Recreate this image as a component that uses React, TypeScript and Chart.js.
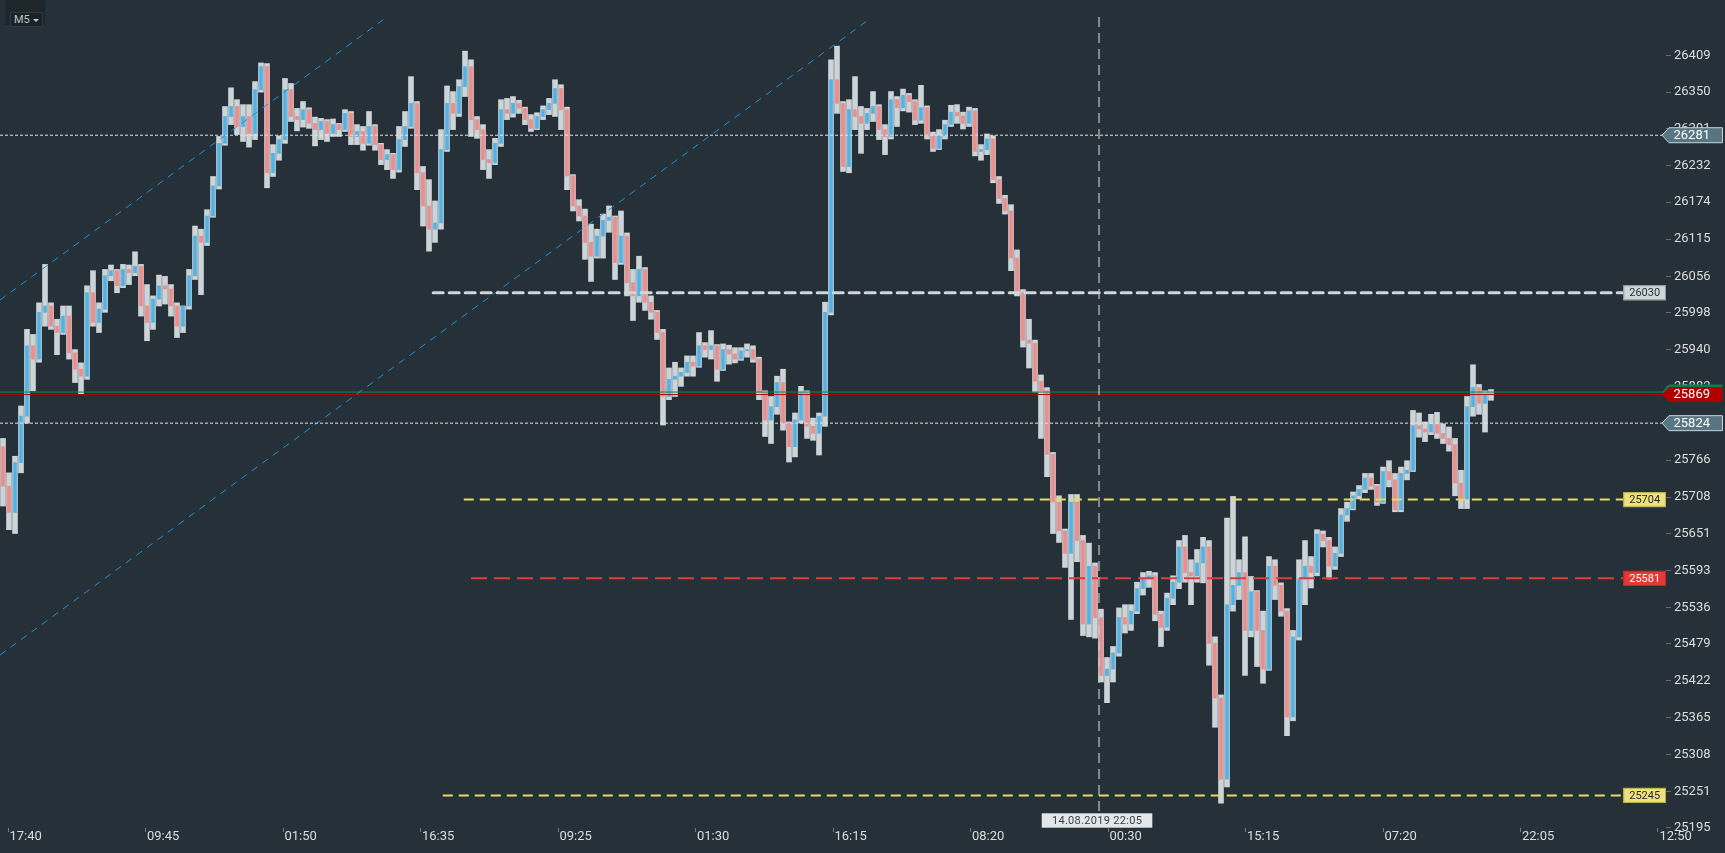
import React, { useEffect, useRef } from "react";
import { Chart, registerables } from "chart.js";

Chart.register(...registerables);

// ---------- data ----------
const timeframe = "M5";
const timeLabels = ["17:40", "09:45", "01:50", "16:35", "09:25", "01:30", "16:15", "08:20", "00:30", "15:15", "07:20", "22:05", "12:50"];
const priceTicks = [26409, 26350, 26291, 26232, 26174, 26115, 26056, 25998, 25940, 25882, 25824, 25766, 25708, 25651, 25593, 25536, 25479, 25422, 25365, 25308, 25251, 25195];

const opens = [
  25787, 25725, 25684, 25762, 25835, 25946, 25925, 25999, 26009, 25977,
  25967, 25993, 25935, 25909, 25898, 26030, 25983, 26004, 26057, 26065,
  26041, 26067, 26062, 26072, 26009, 25983, 26020, 26041, 26036, 26009,
  25977, 26009, 26057, 26120, 26110, 26152, 26200, 26268, 26311, 26327,
  26295, 26311, 26284, 26354, 26391, 26221, 26252, 26274, 26354, 26311,
  26306, 26322, 26300, 26290, 26303, 26284, 26298, 26290, 26316, 26279,
  26287, 26268, 26295, 26266, 26242, 26250, 26226, 26274, 26295, 26332,
  26221, 26168, 26131, 26141, 26258, 26332, 26316, 26359, 26391, 26306,
  26290, 26242, 26237, 26268, 26322, 26316, 26332, 26324, 26306, 26292,
  26311, 26322, 26332, 26356, 26322, 26216, 26168, 26152, 26110, 26088,
  26120, 26145, 26150, 26078, 26120, 26046, 26025, 26067, 26015, 25999,
  25967, 25866, 25893, 25898, 25904, 25920, 25914, 25946, 25940, 25946,
  25909, 25940, 25933, 25925, 25938, 25940, 25925, 25872, 25829, 25850,
  25888, 25824, 25787, 25829, 25872, 25819, 25808, 25835, 25999, 26370,
  26332, 26231, 26322, 26311, 26300, 26316, 26327, 26290, 26279, 26338,
  26325, 26345, 26335, 26305, 26325, 26280, 26260, 26280, 26298, 26318,
  26312, 26300, 26320, 26255, 26258, 26275, 26210, 26180, 26160, 26085,
  26030, 25955, 25950, 25890, 25875, 25775, 25700, 25655, 25620, 25700,
  25640, 25510, 25600, 25520, 25430, 25440, 25465, 25520, 25510, 25530,
  25565, 25580, 25585, 25525, 25505, 25550, 25575, 25630, 25590, 25585,
  25605, 25630, 25480, 25395, 25270, 25540, 25570, 25590, 25500, 25560,
  25500, 25440, 25600, 25570, 25530, 25366, 25490, 25580, 25600, 25590,
  25650, 25640, 25600, 25620, 25680, 25690, 25710, 25720, 25738, 25725,
  25700, 25748, 25735, 25688, 25745, 25750, 25820, 25815, 25810, 25822,
  25808, 25800, 25790, 25730, 25705, 25850, 25880, 25855, 25870,
];
const highs = [
  25800, 25746, 25772, 25851, 25972, 25964, 26014, 26075, 26014, 25988,
  26009, 26009, 25940, 25919, 26041, 26065, 26014, 26067, 26074, 26067,
  26075, 26074, 26095, 26075, 26043, 26025, 26058, 26056, 26043, 26014,
  26009, 26067, 26136, 26131, 26162, 26215, 26279, 26327, 26357, 26338,
  26330, 26330, 26367, 26397, 26396, 26266, 26280, 26372, 26364, 26324,
  26335, 26325, 26310, 26308, 26306, 26307, 26300, 26322, 26319, 26298,
  26295, 26319, 26298, 26268, 26258, 26252, 26295, 26319, 26375, 26335,
  26231, 26210, 26176, 26290, 26360, 26351, 26370, 26416, 26402, 26311,
  26298, 26258, 26276, 26338, 26340, 26343, 26337, 26326, 26314, 26317,
  26328, 26340, 26370, 26362, 26326, 26218, 26178, 26163, 26139, 26131,
  26155, 26168, 26152, 26160, 26125, 26067, 26088, 26070, 26025, 26002,
  25972, 25911, 25920, 25911, 25930, 25930, 25967, 25951, 25970, 25948,
  25949, 25947, 25943, 25943, 25949, 25946, 25928, 25875, 25866, 25898,
  25909, 25826, 25840, 25882, 25875, 25832, 25840, 26015, 26402, 26424,
  26335, 26338, 26375, 26327, 26324, 26351, 26330, 26298, 26351, 26343,
  26355, 26348, 26338, 26361, 26328, 26286, 26290, 26305, 26329, 26330,
  26318, 26326, 26324, 26266, 26283, 26280, 26215, 26185, 26170, 26098,
  26035, 25988, 25955, 25900, 25880, 25778, 25710, 25658, 25712, 25712,
  25648, 25636, 25605, 25533, 25458, 25475, 25535, 25540, 25540, 25575,
  25590, 25592, 25590, 25530, 25558, 25585, 25640, 25648, 25610, 25626,
  25645, 25640, 25490, 25400, 25675, 25709, 25610, 25646, 25584, 25562,
  25530, 25615, 25610, 25574, 25534, 25500, 25610, 25640, 25615, 25657,
  25655, 25645, 25630, 25690, 25700, 25716, 25726, 25745, 25745, 25728,
  25755, 25765, 25745, 25755, 25765, 25844, 25840, 25826, 25838, 25841,
  25823, 25818, 25800, 25750, 25866, 25916, 25885, 25875, 25877,
];
const lows = [
  25694, 25657, 25651, 25746, 25824, 25875, 25920, 25977, 25972, 25932,
  25964, 25925, 25888, 25870, 25893, 25977, 25967, 25999, 26049, 26030,
  26038, 26043, 26057, 25993, 25954, 25972, 26009, 26012, 25993, 25959,
  25967, 26004, 26051, 26027, 26105, 26150, 26195, 26265, 26298, 26282,
  26271, 26262, 26274, 26350, 26197, 26215, 26241, 26268, 26303, 26288,
  26294, 26292, 26264, 26274, 26271, 26279, 26279, 26287, 26266, 26266,
  26257, 26265, 26257, 26234, 26226, 26212, 26222, 26263, 26292, 26194,
  26136, 26096, 26110, 26131, 26255, 26290, 26311, 26343, 26279, 26276,
  26226, 26212, 26234, 26263, 26306, 26310, 26316, 26298, 26287, 26290,
  26306, 26314, 26311, 26290, 26194, 26160, 26144, 26083, 26048, 26085,
  26085, 26126, 26051, 26075, 26025, 25986, 26015, 26002, 25988, 25956,
  25821, 25861, 25866, 25882, 25898, 25898, 25912, 25928, 25925, 25890,
  25907, 25917, 25919, 25923, 25928, 25920, 25861, 25803, 25792, 25838,
  25813, 25763, 25771, 25824, 25800, 25797, 25774, 25819, 25995, 26316,
  26223, 26221, 26290, 26252, 26290, 26303, 26274, 26250, 26275, 26295,
  26320, 26318, 26298, 26300, 26275, 26255, 26258, 26275, 26295, 26300,
  26291, 26295, 26248, 26241, 26250, 26205, 26172, 26155, 26065, 26025,
  25944, 25911, 25873, 25800, 25740, 25651, 25637, 25598, 25517, 25607,
  25492, 25490, 25488, 25420, 25388, 25420, 25460, 25496, 25500, 25526,
  25555, 25567, 25515, 25475, 25500, 25540, 25565, 25575, 25540, 25575,
  25574, 25446, 25350, 25233, 25258, 25530, 25548, 25430, 25490, 25444,
  25418, 25438, 25548, 25522, 25337, 25360, 25485, 25540, 25566, 25585,
  25630, 25580, 25595, 25615, 25670, 25688, 25705, 25715, 25720, 25695,
  25698, 25724, 25685, 25685, 25735, 25748, 25802, 25795, 25806, 25800,
  25792, 25780, 25710, 25690, 25690, 25835, 25838, 25810, 25860,
];
const closes = [
  25725, 25684, 25762, 25835, 25946, 25925, 25999, 26009, 25977, 25967,
  25993, 25935, 25909, 25898, 26030, 25983, 26004, 26057, 26065, 26041,
  26067, 26062, 26072, 26009, 25983, 26020, 26041, 26036, 26009, 25977,
  26009, 26057, 26120, 26110, 26152, 26200, 26268, 26311, 26327, 26295,
  26311, 26284, 26354, 26391, 26221, 26252, 26274, 26354, 26311, 26306,
  26322, 26300, 26290, 26303, 26284, 26298, 26290, 26316, 26279, 26287,
  26268, 26295, 26266, 26242, 26250, 26226, 26274, 26295, 26332, 26221,
  26168, 26131, 26141, 26258, 26332, 26316, 26359, 26391, 26306, 26290,
  26242, 26237, 26268, 26322, 26316, 26332, 26324, 26306, 26292, 26311,
  26322, 26332, 26356, 26322, 26216, 26168, 26152, 26110, 26088, 26120,
  26145, 26150, 26078, 26120, 26046, 26025, 26067, 26015, 25999, 25967,
  25866, 25893, 25898, 25904, 25920, 25914, 25946, 25940, 25946, 25909,
  25940, 25933, 25925, 25938, 25940, 25925, 25872, 25829, 25850, 25888,
  25824, 25787, 25829, 25872, 25819, 25808, 25835, 25999, 26370, 26332,
  26231, 26322, 26311, 26300, 26316, 26327, 26290, 26279, 26338, 26325,
  26345, 26335, 26305, 26325, 26280, 26260, 26280, 26298, 26318, 26312,
  26300, 26320, 26255, 26258, 26275, 26210, 26180, 26160, 26085, 26030,
  25955, 25950, 25890, 25875, 25775, 25700, 25655, 25620, 25700, 25640,
  25510, 25600, 25520, 25430, 25440, 25465, 25520, 25510, 25530, 25565,
  25580, 25585, 25525, 25505, 25550, 25575, 25630, 25590, 25585, 25605,
  25630, 25480, 25395, 25270, 25540, 25570, 25590, 25500, 25560, 25500,
  25440, 25600, 25570, 25530, 25366, 25490, 25580, 25600, 25590, 25650,
  25640, 25600, 25620, 25680, 25690, 25710, 25720, 25738, 25725, 25700,
  25748, 25735, 25688, 25745, 25750, 25820, 25815, 25810, 25822, 25808,
  25800, 25790, 25730, 25705, 25850, 25880, 25855, 25870, 25869,
];

const bidPrice = 25869;
const askPrice = 25873;
const dottedLevels = [26281, 25824];
const boxLevels = [26030, 25704, 25581, 25245];
const boxLevelStarts = [71.7, 76.8, 78, 73.3]; // candle index where each drawn level begins
const boxLevelEnd = 270;
const channelUpper = [{ x: -0.5, y: 26018.5 }, { x: 64, y: 26471 }];
const channelLower = [{ x: -0.5, y: 25461.8 }, { x: 144.33, y: 26467 }];
const crosshairIndex = 182.67;
const crosshairLabel = "14.08.2019 22:05";

// ---------- layout / style ----------
const W = 1725;
const H = 853;
const BG = "#263038";
const PLOT_RIGHT = 1666;
const PLOT_BOTTOM = 828;
const CANDLE_PX = 6;
const X_MIN = -0.5;
const X_MAX = X_MIN + PLOT_RIGHT / CANDLE_PX;
const TICK0 = (8 - 3) / CANDLE_PX;
const TICK_STEP = 137.5 / CANDLE_PX;
const Y_MAX = 26498.4;
const Y_MIN = 25194.9;
const UP = "#4fb3e8";
const DOWN = "#f28a8a";
const WICK = "#cdd4d8";
const AXIS_TEXT = "#d9dee1";
const FONT = "Roboto, 'Noto Sans', sans-serif";

const boxFill = ["#cfd6da", "#eee27c", "#e53935", "#eee27c"];
const boxStroke = ["#8f9aa0", "#b9ad4c", "#b52a2a", "#b9ad4c"];
const boxText = ["#263238", "#2b2b2b", "#ffffff", "#2b2b2b"];
const lineColor = ["#cfd6da", "#e8d960", "#e53935", "#e8d960"];
const lineWidth = [3, 2, 2, 2];
const lineDash = [[10, 6], [10, 6], [16, 7], [10, 6]];

function drawTag(ctx: CanvasRenderingContext2D, x: number, y: number, fill: string, stroke: string | null, textColor: string, text: string) {
  const h = 15;
  const tip = 7;
  const right = 1722.5;
  ctx.save();
  ctx.beginPath();
  ctx.moveTo(x, y);
  ctx.lineTo(x + tip, y - h / 2);
  ctx.lineTo(right, y - h / 2);
  ctx.lineTo(right, y + h / 2);
  ctx.lineTo(x + tip, y + h / 2);
  ctx.closePath();
  ctx.fillStyle = fill;
  ctx.fill();
  if (stroke) {
    ctx.strokeStyle = stroke;
    ctx.lineWidth = 1;
    ctx.stroke();
  }
  ctx.fillStyle = textColor;
  ctx.font = `13px ${FONT}`;
  ctx.textBaseline = "middle";
  ctx.textAlign = "left";
  ctx.fillText(text, x + 11.5, y + 0.5);
  ctx.restore();
}

const overlayPlugin = {
  id: "overlay",
  beforeDraw(chart: any) {
    const ctx = chart.ctx;
    ctx.save();
    ctx.fillStyle = BG;
    ctx.fillRect(0, 0, chart.width, chart.height);
    ctx.restore();
  },
  afterDatasetsDraw(chart: any) {
    const { ctx, scales } = chart;
    const px = scales.x.getPixelForValue(crosshairIndex);
    ctx.save();
    ctx.strokeStyle = "rgba(196,202,206,0.78)";
    ctx.lineWidth = 1.5;
    ctx.setLineDash([10, 6]);
    ctx.beginPath();
    ctx.moveTo(px, 17);
    ctx.lineTo(px, 813);
    ctx.stroke();
    ctx.restore();
  },
  afterDraw(chart: any) {
    const { ctx, scales, chartArea } = chart;
    const y = scales.y;
    const tagX = chartArea.right - 4;
    // level boxes
    boxLevels.forEach((lvl, k) => {
      const py = y.getPixelForValue(lvl);
      const bx = chartArea.right - 42.7;
      ctx.save();
      ctx.fillStyle = boxFill[k];
      ctx.fillRect(bx, py - 7.5, 42.7, 15);
      ctx.strokeStyle = boxStroke[k];
      ctx.lineWidth = 1;
      ctx.strokeRect(bx + 0.5, py - 7, 41.7, 14);
      ctx.fillStyle = boxText[k];
      ctx.font = `11px ${FONT}`;
      ctx.textAlign = "center";
      ctx.textBaseline = "middle";
      ctx.fillText(String(lvl), bx + 21.4, py + 0.5);
      ctx.restore();
    });
    // price tags
    drawTag(ctx, tagX, y.getPixelForValue(askPrice), "#0b7d52", null, "#ffffff", String(askPrice));
    drawTag(ctx, tagX, y.getPixelForValue(bidPrice), "#b00000", null, "#ffffff", String(bidPrice));
    dottedLevels.forEach((lvl) => {
      drawTag(ctx, tagX, y.getPixelForValue(lvl), "#587582", "#c9d4da", "#ffffff", String(lvl));
    });
    // crosshair date box
    const px = scales.x.getPixelForValue(crosshairIndex);
    const bw = 110.6;
    const bxl = px - 2 - bw / 2;
    ctx.save();
    ctx.fillStyle = "#e3e7e9";
    ctx.fillRect(bxl, 813.3, bw, 14.4);
    ctx.fillStyle = "#3a3f44";
    ctx.font = `11px ${FONT}`;
    (ctx as any).letterSpacing = "0.3px";
    ctx.textAlign = "center";
    ctx.textBaseline = "middle";
    ctx.fillText(crosshairLabel, bxl + bw / 2, 821);
    ctx.restore();
  },
};

export default function App() {
  const ref = useRef<HTMLCanvasElement>(null);

  useEffect(() => {
    document.body.style.margin = "0";
    document.body.style.background = BG;
    const canvas = ref.current;
    if (!canvas) return;
    const idx = opens.map((_, i) => i);
    const hline = (lvl: number, x0: number, x1: number) => [{ x: x0, y: lvl }, { x: x1, y: lvl }];

    const datasets: any[] = [];
    boxLevels.forEach((lvl, k) => {
      datasets.push({
        type: "line",
        data: hline(lvl, boxLevelStarts[k], boxLevelEnd),
        borderColor: lineColor[k],
        borderWidth: lineWidth[k],
        borderDash: lineDash[k],
        borderCapStyle: k === 0 ? "round" : "butt",
        pointRadius: 0,
        order: 1,
      });
    });
    dottedLevels.forEach((lvl) => {
      datasets.push({
        type: "line",
        data: hline(lvl, X_MIN, X_MAX),
        borderColor: "#dfe4e7",
        borderWidth: 1,
        borderDash: [3, 2],
        pointRadius: 0,
        order: 1,
      });
    });
    datasets.push({ type: "line", data: hline(askPrice, X_MIN, X_MAX), borderColor: "#0a8a57", borderWidth: 1, pointRadius: 0, order: 2 });
    datasets.push({ type: "line", data: hline(bidPrice, X_MIN, X_MAX), borderColor: "#a80a0a", borderWidth: 1, pointRadius: 0, order: 2 });
    [channelUpper, channelLower].forEach((pts) => {
      datasets.push({
        type: "line",
        data: pts,
        borderColor: "#1f8fd6",
        borderWidth: 1,
        borderDash: [7, 6],
        pointRadius: 0,
        order: 1,
      });
    });
    datasets.push({
      type: "bar",
      data: idx.map((i) => ({ x: i, y: [opens[i], closes[i]] })),
      backgroundColor: idx.map((i) => (closes[i] >= opens[i] ? UP : DOWN)),
      barThickness: 3,
      minBarLength: 1,
      grouped: false,
      borderWidth: 0,
      order: 5,
    });
    datasets.push({
      type: "bar",
      data: idx.map((i) => ({ x: i, y: [lows[i], highs[i]] })),
      backgroundColor: WICK,
      barThickness: 5,
      minBarLength: 1,
      grouped: false,
      borderWidth: 0,
      order: 6,
    });

    const tickFont = { family: FONT, size: 13 };
    const chart = new Chart(canvas, {
      type: "bar",
      data: { datasets },
      options: {
        responsive: false,
        animation: false,
        devicePixelRatio: 1,
        events: [],
        layout: { padding: 0, autoPadding: false },
        plugins: { legend: { display: false }, tooltip: { enabled: false }, title: { display: false } },
        scales: {
          x: {
            type: "linear",
            position: "bottom",
            min: X_MIN,
            max: X_MAX,
            offset: false,
            bounds: "data",
            grid: { drawOnChartArea: false, drawTicks: true, tickLength: 4, color: "#6f7b82", offset: false },
            border: { display: false },
            ticks: {
              align: "start",
              labelOffset: 1.5,
              padding: -3.5,
              color: AXIS_TEXT,
              font: tickFont,
              autoSkip: false,
              maxRotation: 0,
              minRotation: 0,
              callback: (_v: any, index: number) => timeLabels[index] ?? "",
            },
            afterBuildTicks: (s: any) => {
              s.ticks = timeLabels.map((_, k) => ({ value: TICK0 + k * TICK_STEP }));
            },
            afterFit: (s: any) => {
              s.height = H - PLOT_BOTTOM;
              s.paddingLeft = 0;
              s.paddingRight = 0;
              s.paddingTop = 0;
              s.paddingBottom = 0;
            },
          },
          y: {
            type: "logarithmic",
            position: "right",
            min: Y_MIN,
            max: Y_MAX,
            bounds: "data",
            grid: { drawOnChartArea: false, drawTicks: true, tickLength: 5, color: "#5f6b72" },
            border: { display: false },
            ticks: {
              padding: 3,
              color: AXIS_TEXT,
              font: tickFont,
              autoSkip: false,
              callback: (v: any) => String(v),
            },
            afterBuildTicks: (s: any) => {
              s.ticks = priceTicks.map((v) => ({ value: v }));
            },
            afterFit: (s: any) => {
              s.width = W - PLOT_RIGHT;
              s.paddingTop = 0;
              s.paddingBottom = 0;
              s.paddingLeft = 0;
              s.paddingRight = 0;
            },
          },
        },
      } as any,
      plugins: [overlayPlugin as any],
    });
    return () => chart.destroy();
  }, []);

  return (
    <div style={{ position: "fixed", left: 0, top: 0, width: W, height: H, background: BG, overflow: "hidden" }}>
      <canvas ref={ref} width={W} height={H} style={{ display: "block", width: W, height: H }} />
      <div style={{ position: "absolute", left: 5, top: 0, width: 40, height: 25, background: "#1e262c" }} />
      <div
        style={{
          position: "absolute",
          left: 10,
          top: 12,
          width: 33,
          height: 15,
          boxSizing: "border-box",
          background: "#1b2227",
          border: "1px solid #303a41",
          borderRadius: 2,
          color: "#b9c2c7",
          font: `11px ${FONT}`,
          lineHeight: "13px",
          paddingLeft: 3,
        }}
      >
        {timeframe}
        <span
          style={{
            position: "absolute",
            left: 22,
            top: 6,
            width: 0,
            height: 0,
            borderLeft: "3.5px solid transparent",
            borderRight: "3.5px solid transparent",
            borderTop: "3.5px solid #c4ccd0",
          }}
        />
      </div>
    </div>
  );
}
